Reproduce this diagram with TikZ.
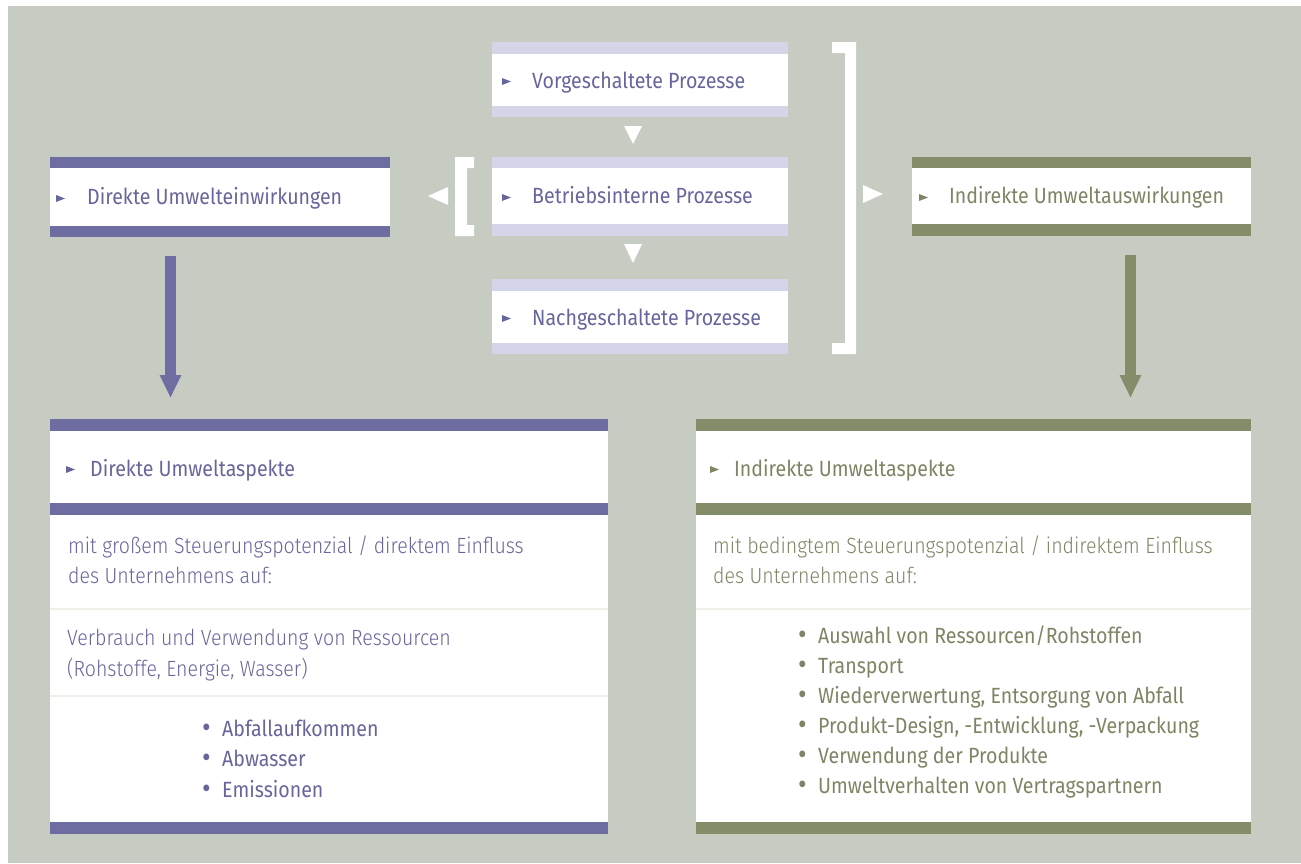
\documentclass[tikz,border=0pt]{standalone}
\usepackage{fontspec}
\usepackage{graphicx}
\setmainfont{Fira Sans}[FakeStretch=0.89]
\newfontfamily\lightf{Fira Sans Light}[FakeStretch=0.89]
\usetikzlibrary{arrows.meta}
\definecolor{bg}{HTML}{C6CCC1}
\definecolor{pu}{HTML}{6E6DA2}
\definecolor{gr}{HTML}{848D6A}
\definecolor{lav}{HTML}{D4D5E9}
\definecolor{sepc}{HTML}{EEF0EA}
\definecolor{put}{HTML}{67669C}
\definecolor{grt}{HTML}{7D8664}
\tikzset{
  box/.style={fill=white, draw=none, inner sep=0, anchor=north west},
  ttl/.style={anchor=base west, inner sep=0, font=\fontsize{22}{26}\selectfont},
  body/.style={anchor=base west, inner sep=0, font=\lightf\fontsize{22}{26}\selectfont},
  item/.style={anchor=base west, inner sep=0, font=\fontsize{22}{26}\selectfont},
  bigarrow/.style={line width=11pt, -{Triangle[width=20pt,length=23pt]}},
}
\newcommand{\marker}[3]{\fill[#1] (#2,#3) ++(0,-3.5) -- ++(9,3.5) -- ++(-9,3.5) -- cycle;}
\newcommand{\bul}{\makebox[20pt][l]{\raisebox{-1.2pt}{\scalebox{1.35}{•}}}}
\begin{document}
\begin{tikzpicture}[x=1pt,y=-1pt]
\useasboundingbox (0,0) rectangle (1301,863);
\fill[white] (0,0) rectangle (1301,863);
\fill[bg] (8,6) rectangle (1301,863);

% left top box
\node[box, minimum width=340, minimum height=80] (dir) at (50,157) {};
\fill[pu] (dir.north west) rectangle ++(340,11);
\fill[pu] (dir.south west) rectangle ++(340,-11);
\marker{put}{56}{198.5}
\node[ttl, text=put] (dirt) at (87,204) {Direkte Umwelteinwirkungen};

% center boxes
\node[box, minimum width=296, minimum height=75] (vor) at (492,42) {};
\fill[lav] (vor.north west) rectangle ++(296,12);
\fill[lav] (vor.south west) rectangle ++(296,-11);
\marker{put}{502}{81.5}
\node[ttl, text=put] (vort) at (532,88) {Vorgeschaltete Prozesse};

\node[box, minimum width=296, minimum height=79] (bet) at (492,157) {};
\fill[lav] (bet.north west) rectangle ++(296,11);
\fill[lav] (bet.south west) rectangle ++(296,-12);
\marker{put}{502}{197.5}
\node[ttl, text=put] (bett) at (532,203) {Betriebsinterne Prozesse};

\node[box, minimum width=296, minimum height=75] (nach) at (492,279) {};
\fill[lav] (nach.north west) rectangle ++(296,12);
\fill[lav] (nach.south west) rectangle ++(296,-11);
\marker{put}{502}{318.5}
\node[ttl, text=put] (nacht) at (532,325) {Nachgeschaltete Prozesse};

% right top box
\node[box, minimum width=339, minimum height=79] (ind) at (912,157) {};
\fill[gr] (ind.north west) rectangle ++(339,11);
\fill[gr] (ind.south west) rectangle ++(339,-12);
\marker{grt}{919}{197.5}
\node[ttl, text=grt] (indt) at (949,203) {Indirekte Umweltauswirkungen};

% white triangles and brackets
\fill[white] (624,126) -- (642,126) -- (633,144) -- cycle;
\fill[white] (624,244) -- (642,244) -- (633,263) -- cycle;
\fill[white] (455,157) -- (474,157) -- (474,168) -- (467,168) -- (467,225) -- (474,225) -- (474,236) -- (455,236) -- cycle;
\fill[white] (428,196) -- (448,187) -- (448,205) -- cycle;
\fill[white] (832,42) -- (856,42) -- (856,354) -- (832,354) -- (832,343) -- (845,343) -- (845,53) -- (832,53) -- cycle;
\fill[white] (863,185) -- (883,194) -- (863,203) -- cycle;

% bottom left box
\node[box, minimum width=558, minimum height=415] (da) at (50,419) {};
\fill[pu] (da.north west) rectangle ++(558,12);
\fill[pu] (50,503) rectangle (608,515);
\fill[pu] (da.south west) rectangle ++(558,-12);
\draw[sepc, line width=1.5pt] (50,609) -- (608,609);
\draw[sepc, line width=1.5pt] (50,696) -- (608,696);
\marker{put}{66}{469.5}
\node[ttl, text=put] at (90,476) {Direkte Umweltaspekte};
\node[body, text=put] at (68,553) {mit großem Steuerungspotenzial / direktem Einfluss};
\node[body, text=put] at (68,583) {des Unternehmens auf:};
\node[body, text=put] at (67,645) {Verbrauch und Verwendung von Ressourcen};
\node[body, text=put] at (67,676) {(Rohstoffe, Energie, Wasser)};
\node[item, text=put] at (202,736) {\bul Abfallaufkommen};
\node[item, text=put] at (202,766) {\bul Abwasser};
\node[item, text=put] at (202,797) {\bul Emissionen};

% bottom right box
\node[box, minimum width=555, minimum height=415] (ia) at (696,419) {};
\fill[gr] (ia.north west) rectangle ++(555,12);
\fill[gr] (696,503) rectangle (1251,515);
\fill[gr] (ia.south west) rectangle ++(555,-12);
\draw[sepc, line width=1.5pt] (696,609) -- (1251,609);
\marker{grt}{710}{469.5}
\node[ttl, text=grt] at (734,476) {Indirekte Umweltaspekte};
\node[body, text=grt] at (713,553) {mit bedingtem Steuerungspotenzial / indirektem Einfluss};
\node[body, text=grt] at (713,583) {des Unternehmens auf:};
\node[item, text=grt] at (798,643) {\bul Auswahl von Ressourcen/Rohstoffen};
\node[item, text=grt] at (798,673) {\bul Transport};
\node[item, text=grt] at (798,703) {\bul Wiederverwertung, Entsorgung von Abfall};
\node[item, text=grt] at (798,733) {\bul Produkt-Design, -Entwicklung, -Verpackung};
\node[item, text=grt] at (798,763) {\bul Verwendung der Produkte};
\node[item, text=grt] at (798,793) {\bul Umweltverhalten von Vertragspartnern};

% big arrows
\coordinate (la) at (170.5,0);
\coordinate (ra) at (1130.5,0);
\draw[bigarrow, pu, shorten <=19pt, shorten >=21pt] (dir.south -| la) -- (da.north -| la);
\draw[bigarrow, gr, shorten <=19pt, shorten >=21pt] (ind.south -| ra) -- (ia.north -| ra);
\end{tikzpicture}
\end{document}
